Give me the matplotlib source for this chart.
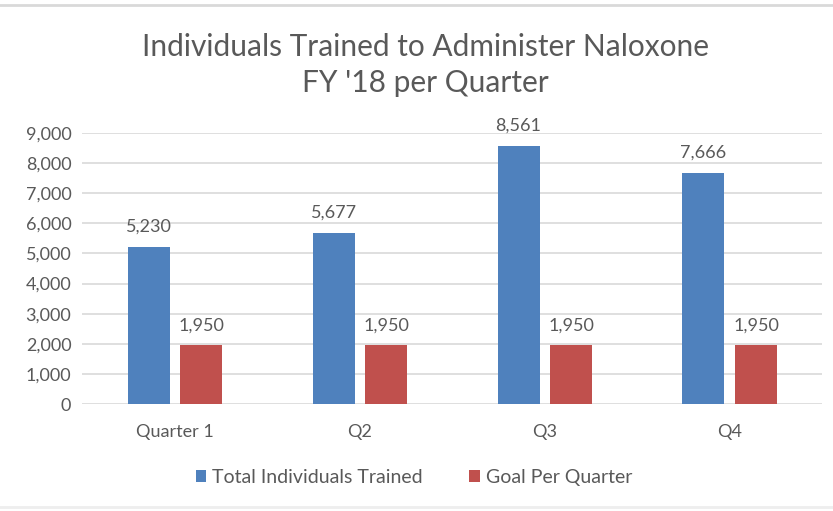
import matplotlib.pyplot as plt
from matplotlib.lines import Line2D
import numpy as np

# chart data
quarters = ["Quarter 1", "Q2", "Q3", "Q4"]
trained = [5230, 5677, 8561, 7666]
goal = [1950, 1950, 1950, 1950]

blue = "#4F81BD"
red = "#C0504D"
gray = "#595959"

plt.rcParams["font.family"] = ["Lato", "DejaVu Sans"]

fig = plt.figure(figsize=(8.33, 5.11), dpi=100)
ax = fig.add_axes([0.099, 0.209, 0.888, 0.531])

x = np.arange(len(quarters))
w = 0.227
b1 = ax.bar(x - 0.142, trained, w, color=blue, label="Total Individuals Trained", zorder=3)
b2 = ax.bar(x + 0.142, goal, w, color=red, label="Goal Per Quarter", zorder=3)

for bars in (b1, b2):
    for r in bars:
        ax.text(r.get_x() + r.get_width() / 2, r.get_height() + 400, f"{int(r.get_height()):,}",
                ha="center", va="bottom", fontsize=13, color=gray)

ax.set_xlim(-0.5, 3.5)
ax.set_ylim(0, 9000)
ax.set_yticks(range(0, 9001, 1000))
ax.set_yticklabels([f"{v:,}" for v in range(0, 9001, 1000)])
ax.set_xticks(x)
ax.set_xticklabels(quarters)
ax.tick_params(axis="both", length=0, labelsize=13, colors=gray)
ax.tick_params(axis="x", pad=14)
ax.tick_params(axis="y", pad=8)
ax.grid(axis="y", color="#D9D9D9", linewidth=1.2, zorder=0)
for s in ax.spines.values():
    s.set_visible(False)

fig.text(0.511, 0.872, "Individuals Trained to Administer Naloxone\nFY '18 per Quarter",
         ha="center", va="center", fontsize=21.5, color=gray, linespacing=1.35)

leg = fig.legend(loc="center", bbox_to_anchor=(0.497, 0.066), ncol=2, frameon=False,
                 fontsize=14, handlelength=0.55, handleheight=0.55, handletextpad=0.3,
                 columnspacing=2.4)
for t in leg.get_texts():
    t.set_color(gray)

# light border lines top and bottom
fig.add_artist(Line2D([0, 1], [0.991, 0.991], color="#D9D9D9", linewidth=2, transform=fig.transFigure))
fig.add_artist(Line2D([0, 1], [0.008, 0.008], color="#EEEEEE", linewidth=2, transform=fig.transFigure))

fig.savefig("out.png", dpi=100)
